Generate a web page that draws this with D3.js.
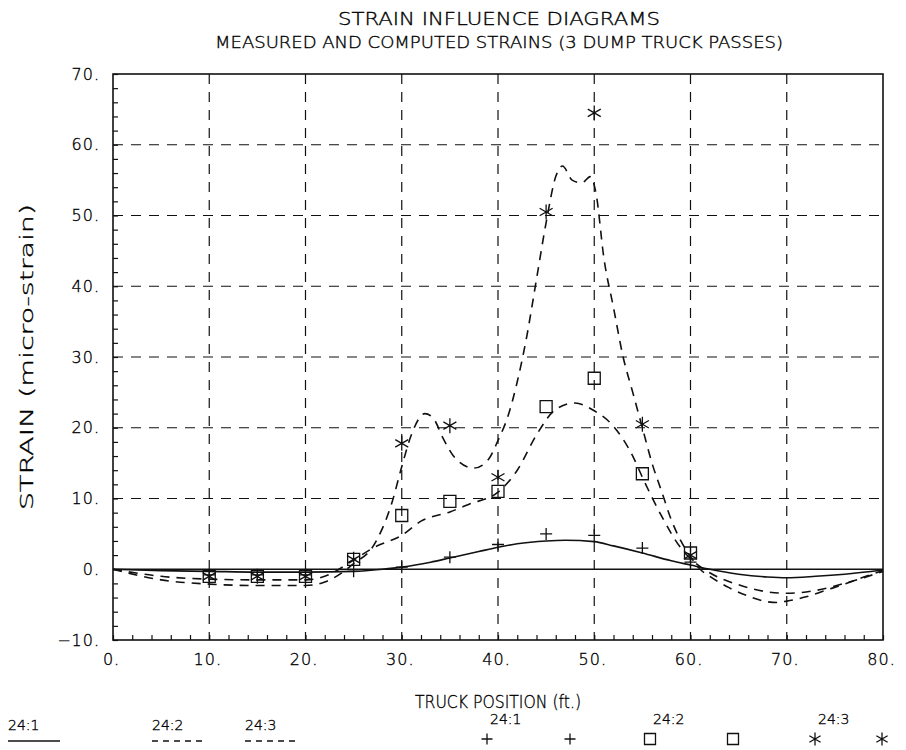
<!DOCTYPE html>
<html>
<head>
<meta charset="utf-8">
<script src="https://cdnjs.cloudflare.com/ajax/libs/d3/7.8.5/d3.min.js"></script>
<style>
  html, body { margin: 0; padding: 0; background: #fff; }
  svg { display: block; }
  text { fill: #000; font-family: "DejaVu Sans", sans-serif; font-weight: 200; stroke: #000; stroke-width: 0.35px; }
</style>
</head>
<body>
<svg id="chart" width="906" height="750"></svg>
<script>
// Truck positions (ft.) at which strains were measured
const gaugePositions = [10, 15, 20, 25, 30, 35, 40, 45, 50, 55, 60];
// Measured strains (micro-strain), one array per truck pass
const measured241 = [-0.8, -0.8, -0.8, -0.3, 0.3, 1.7, 3.5, 5.0, 4.8, 3.0, 1.0];
const measured242 = [-1.0, -1.0, -1.0, 1.4, 7.6, 9.6, 11.0, 23.0, 27.0, 13.5, 2.3];
const measured243 = [-1.0, -1.0, -1.0, 1.4, 17.8, 20.3, 13.0, 50.5, 64.5, 20.5, 2.0];

// Computed influence lines
const computed241X = [0, 5, 10, 15, 20, 25, 28, 30, 33, 35, 38, 40, 42, 45, 47, 50, 52, 55, 58, 60, 62, 65, 68, 70, 73, 76, 80];
const computed241Y = [0, -0.2, -0.3, -0.4, -0.4, -0.3, 0, 0.3, 1.0, 1.6, 2.5, 3.1, 3.6, 4.0, 4.1, 3.9, 3.3, 2.3, 1.2, 0.6, 0, -0.7, -1.1, -1.2, -1.0, -0.7, -0.1];

const computed242X = [0, 5, 10, 15, 20, 22, 25, 27, 30, 32, 35, 37, 40, 42, 44, 46, 48, 50, 52, 54, 55, 57, 59, 60, 62, 65, 68, 70, 73, 76, 80];
const computed242Y = [0, -1.0, -1.4, -1.5, -1.5, -1.0, 1.3, 3.0, 4.8, 6.8, 8.1, 9.2, 10.9, 14.0, 19.0, 22.6, 23.5, 22.4, 20.2, 16.0, 13.0, 7.5, 3.0, 1.5, -0.5, -2.2, -3.2, -3.4, -3.0, -2.0, -0.3];

const computed243X = [0, 5, 10, 15, 20, 22, 24, 25, 27, 29, 30, 31, 32.4, 33.3, 34.3, 35.5, 37.5, 39, 40, 41, 42, 43, 44, 45, 46, 46.7, 47.7, 48.7, 49.6, 50.2, 51, 52, 53, 54, 55, 56, 57, 58, 59, 60, 61, 62, 64, 66, 68, 69, 70, 72, 74, 76, 78, 80];
const computed243Y = [0, -1.5, -2.1, -2.3, -2.3, -1.8, -0.3, 0.8, 3.2, 9.5, 14.5, 19.0, 22.0, 21.3, 18.5, 15.8, 14.3, 15.5, 18.2, 21.5, 26.5, 33, 41, 49, 55.5, 57, 55, 54.6, 55.5, 53, 44, 37, 30, 25, 20, 15, 11, 7, 4, 1.8, 0, -1.0, -2.6, -3.8, -4.6, -4.7, -4.5, -3.9, -3.0, -2.1, -1.1, -0.2];

// Axis ticks
const xMajorTicks = [0, 10, 20, 30, 40, 50, 60, 70, 80];
const yMajorTicks = [-10, 0, 10, 20, 30, 40, 50, 60, 70];
const xGridValues = [10, 20, 30, 40, 50, 60, 70];
const yGridValues = [10, 20, 30, 40, 50, 60];

const svg = d3.select("#chart");
svg.append("rect").attr("width", 906).attr("height", 750).attr("fill", "#fff");

const x = d3.scaleLinear().domain([0, 80]).range([113, 883]);
const y = d3.scaleLinear().domain([-10, 70]).range([640, 74]);

const ink = "#111";
const gridDash = "10,8";
const curveDash = "9,7";

// Titles
svg.append("text").attr("x", 499).attr("y", 25).attr("text-anchor", "middle")
  .attr("font-size", 17).attr("textLength", 322).attr("lengthAdjust", "spacingAndGlyphs")
  .text("STRAIN INFLUENCE DIAGRAMS");
svg.append("text").attr("x", 499).attr("y", 48).attr("text-anchor", "middle")
  .attr("font-size", 16).attr("textLength", 568).attr("lengthAdjust", "spacingAndGlyphs")
  .text("MEASURED AND COMPUTED STRAINS (3 DUMP TRUCK PASSES)");

// Grid
const grid = svg.append("g").attr("stroke", ink).attr("stroke-width", 1.2).attr("stroke-dasharray", gridDash).attr("fill", "none");
grid.selectAll("line.v").data(xGridValues).join("line").attr("class", "v")
  .attr("x1", d => x(d)).attr("x2", d => x(d)).attr("y1", y(70)).attr("y2", y(-10));
grid.selectAll("line.h").data(yGridValues).join("line").attr("class", "h")
  .attr("x1", x(0)).attr("x2", x(80)).attr("y1", d => y(d)).attr("y2", d => y(d));

// Zero line
svg.append("line").attr("x1", x(0)).attr("x2", x(80)).attr("y1", y(0)).attr("y2", y(0))
  .attr("stroke", ink).attr("stroke-width", 1.4);

// Minor ticks pointing into the plot
const xMinor = d3.range(0, 81, 2);
const yMinor = d3.range(-10, 71, 2);
const minorX = svg.append("g").attr("transform", `translate(0,${y(-10)})`)
  .call(d3.axisBottom(x).tickValues(xMinor).tickSizeInner(-5).tickSizeOuter(0).tickFormat(""));
const minorY = svg.append("g").attr("transform", `translate(${x(0)},0)`)
  .call(d3.axisLeft(y).tickValues(yMinor).tickSizeInner(-5).tickSizeOuter(0).tickFormat(""));
[minorX, minorY].forEach(g => {
  g.select(".domain").remove();
  g.selectAll("line").attr("stroke", ink).attr("stroke-width", 1.2);
});

// Frame
svg.append("rect").attr("x", x(0)).attr("y", y(70)).attr("width", x(80) - x(0)).attr("height", y(-10) - y(70))
  .attr("fill", "none").attr("stroke", ink).attr("stroke-width", 1.6);

// Tick labels
const fmt = d => (d < 0 ? "\u2212" + Math.abs(d) : d) + ".";
const xAxis = svg.append("g").attr("transform", `translate(0,${y(-10)})`)
  .call(d3.axisBottom(x).tickValues(xMajorTicks).tickSize(0).tickPadding(14).tickFormat(fmt));
const yAxis = svg.append("g").attr("transform", `translate(${x(0)},0)`)
  .call(d3.axisLeft(y).tickValues(yMajorTicks).tickSize(0).tickPadding(13).tickFormat(fmt));
[xAxis, yAxis].forEach(g => {
  g.select(".domain").remove();
  g.selectAll("text").attr("font-size", 16).style("font-family", "'DejaVu Sans', sans-serif")
    .style("letter-spacing", "1px").attr("fill", ink);
});
xAxis.selectAll("text").attr("dx", -2);

// Axis titles
svg.append("text").attr("x", 498).attr("y", 708).attr("text-anchor", "middle")
  .attr("font-size", 18).attr("textLength", 166).attr("lengthAdjust", "spacingAndGlyphs")
  .text("TRUCK POSITION (ft.)");
svg.append("text").attr("transform", `translate(33,357) rotate(-90)`).attr("text-anchor", "middle")
  .attr("font-size", 18).attr("textLength", 306).attr("lengthAdjust", "spacingAndGlyphs")
  .text("STRAIN (micro-strain)");

// Computed curves
const line = d3.line().x(d => x(d[0])).y(d => y(d[1])).curve(d3.curveMonotoneX);
const curves = [
  { xs: computed241X, ys: computed241Y, dash: null },
  { xs: computed242X, ys: computed242Y, dash: curveDash },
  { xs: computed243X, ys: computed243Y, dash: curveDash }
];
curves.forEach(c => {
  svg.append("path").datum(d3.zip(c.xs, c.ys)).attr("d", line)
    .attr("fill", "none").attr("stroke", ink).attr("stroke-width", 1.6)
    .attr("stroke-dasharray", c.dash);
});

// Marker symbols
function plusPath(s) { return `M${-s},0H${s}M0,${-s}V${s}`; }
function squarePath(s) { return `M${-s},${-s}H${s}V${s}H${-s}Z`; }
function starPath(s) {
  const a = s * Math.cos(Math.PI / 6), b = s * Math.sin(Math.PI / 6);
  return `M0,${-s}V${s}M${-a},${-b}L${a},${b}M${-a},${b}L${a},${-b}`;
}
const markerSets = [
  { values: measured241, path: plusPath(6) },
  { values: measured242, path: squarePath(6) },
  { values: measured243, path: starPath(7.5) }
];
markerSets.forEach(m => {
  svg.append("g").selectAll("path").data(d3.zip(gaugePositions, m.values)).join("path")
    .attr("transform", d => `translate(${x(d[0])},${y(d[1])})`)
    .attr("d", m.path).attr("fill", "none").attr("stroke", ink).attr("stroke-width", 1.3);
});

// Legend
const legend = svg.append("g").attr("font-size", 14);
const lineKeys = [
  { label: "24:1", lx: 8, dash: null },
  { label: "24:2", lx: 152, dash: "6,5" },
  { label: "24:3", lx: 245, dash: "6,5" }
];
lineKeys.forEach(k => {
  legend.append("text").attr("x", k.lx).attr("y", 730).text(k.label);
  legend.append("line").attr("x1", k.lx).attr("x2", k.lx + 52).attr("y1", 741).attr("y2", 741)
    .attr("stroke", ink).attr("stroke-width", 1.4).attr("stroke-dasharray", k.dash);
});
const symbolKeys = [
  { label: "24:1", sx: 487, sx2: 570, path: plusPath(5.5) },
  { label: "24:2", sx: 650, sx2: 733, path: squarePath(5.5) },
  { label: "24:3", sx: 815, sx2: 882, path: starPath(6.5) }
];
symbolKeys.forEach(k => {
  legend.append("text").attr("x", k.sx + 3).attr("y", 724).text(k.label);
  [k.sx, k.sx2].forEach(px => {
    legend.append("path").attr("transform", `translate(${px},739)`).attr("d", k.path)
      .attr("fill", "none").attr("stroke", ink).attr("stroke-width", 1.3);
  });
});
</script>
</body>
</html>
